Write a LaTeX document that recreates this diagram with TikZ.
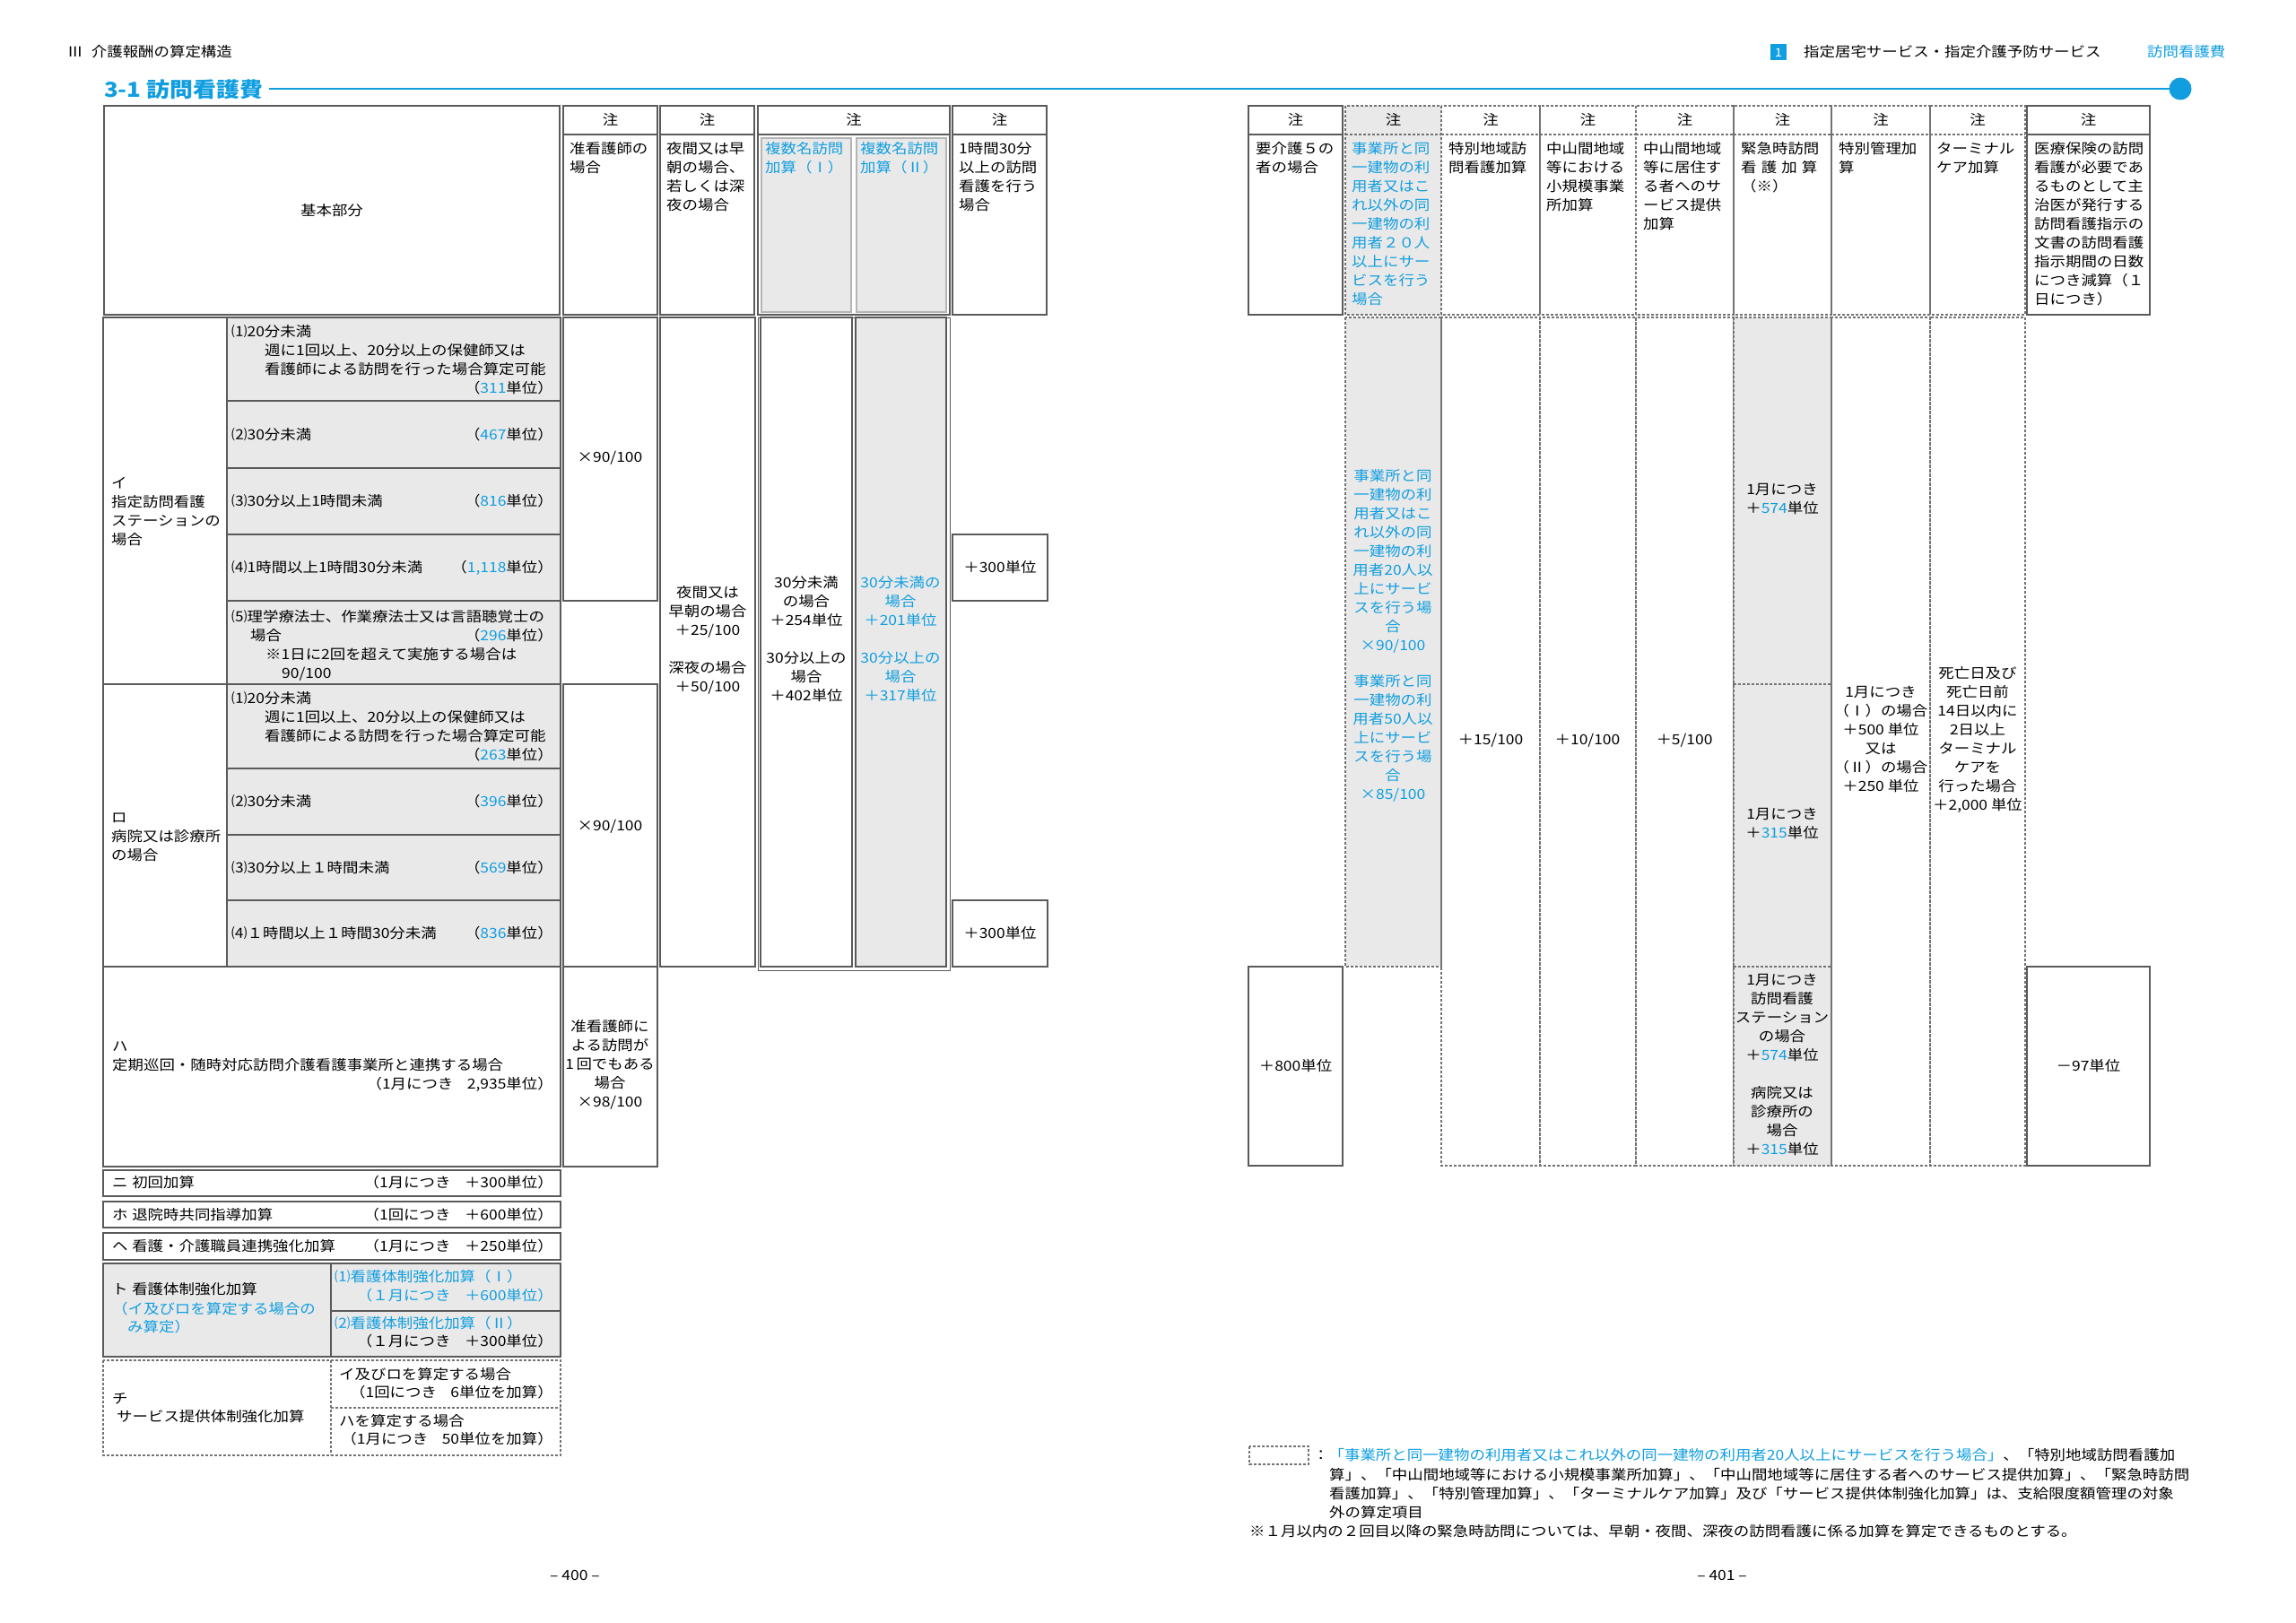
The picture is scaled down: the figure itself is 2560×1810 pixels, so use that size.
\documentclass[tikz,border=0pt]{standalone}
\usepackage{fontspec}
\setmainfont{Noto Sans CJK JP}[FakeStretch=1.125]
\definecolor{jb}{RGB}{16,158,224}
\definecolor{jg}{RGB}{233,233,233}
\definecolor{jl}{RGB}{90,90,90}
\newcommand\fs{\fontsize{15.5}{21}\selectfont}
\newcommand\jst{\rule{0pt}{13.6pt}}
\newcommand\bl[1]{\textcolor{jb}{#1}}
\tikzset{
  box/.style={draw=jl, line width=1.6pt},
  gbox/.style={box, fill=jg},
  dbox/.style={draw=jl!85, line width=1.1pt, dash pattern=on 3pt off 2pt},
  t/.style={font=\fs, inner sep=0pt, anchor=west, text height=13.6pt, text depth=1.9pt},
  tr/.style={t, anchor=east},
  tc/.style={t, anchor=center},
  m/.style={font=\fs, inner sep=0pt, align=left, anchor=north west},
  mc/.style={font=\fs, inner sep=0pt, align=center, anchor=north}
}
\begin{document}
\begin{tikzpicture}[x=1pt,y=-1pt]
\fill[white] (0,0) rectangle (2560,1810);
\useasboundingbox (0,0) rectangle (2560,1810);

% ---------- page headers ----------
\node[t] (hdl) at (75,58) {Ⅲ\hspace{0.6em}介護報酬の算定構造};
\fill[jb] (1974,49) rectangle (1992,67);
\node[tc, text=white, font=\fontsize{13}{13}\selectfont] (hdn) at (1983,58) {1};
\node[t] (hdr) at (2011,58) {指定居宅サービス・指定介護予防サービス};
\node[t, text=jb] (hdr2) at (2394,58) {訪問看護費};
\node[inner sep=0pt, anchor=west, text=jb, font=\fontsize{23}{23}\selectfont\bfseries] (title) at (116,100) {3-1 訪問看護費};
\coordinate (ls) at (300,99);
\coordinate (le) at (2431,99);
\draw[jb, line width=2.6pt] (ls) -- (le);
\fill[jb] (le) circle (12.5);

% ---------- left table header ----------
\draw[box] (116,118) rectangle (624,351);
\node[tc] (kihon) at (370,235) {基本部分};
\foreach \a/\b in {628/733, 736/841, 845/1059, 1062/1167}{
  \draw[box] (\a,118) rectangle (\b,351);
  \draw[box] (\a,150) -- (\b,150);
  \node[tc] (chu\a) at ({(\a+\b)/2},134) {注};
}
\draw[draw=jl!45, line width=1.2pt, fill=jg] (849,154) rectangle (949,348);
\draw[draw=jl!45, line width=1.2pt, fill=jg] (955,154) rectangle (1055,348);
\node[m] (h1) at (635,158) {\jst 准看護師の\\場合};
\node[m] (h2) at (743,158) {\jst 夜間又は早\\朝の場合、\\若しくは深\\夜の場合};
\node[m, text=jb] (h3) at (853,158) {\jst 複数名訪問\\加算（Ⅰ）};
\node[m, text=jb] (h4) at (959,158) {\jst 複数名訪問\\加算（Ⅱ）};
\node[m] (h5) at (1069,158) {\jst 1時間30分\\以上の訪問\\看護を行う\\場合};

% ---------- right table header ----------
\draw[box] (1392,118) rectangle (1497,351);
\draw[box] (1392,150) -- (1497,150);
\node[tc] (rchu1) at (1444.5,134) {注};
\draw[box] (2260,118) rectangle (2397,351);
\draw[box] (2260,150) -- (2397,150);
\node[tc] (rchu9) at (2328.5,134) {注};
\draw[dbox, fill=jg] (1500,118) rectangle (1607,351);
\foreach \a/\b in {1500/1607, 1607/1717, 1717/1824, 1824/1933, 1933/2042, 2042/2152, 2152/2258}{
  \draw[dbox] (\a,118) rectangle (\b,351);
  \draw[dbox] (\a,150) -- (\b,150);
  \node[tc] (rchu\a) at ({(\a+\b)/2},134) {注};
}
\node[m] (r1) at (1400,158) {\jst 要介護５の\\者の場合};
\node[m, text=jb] (r2) at (1507,158) {\jst 事業所と同\\一建物の利\\用者又はこ\\れ以外の同\\一建物の利\\用者２０人\\以上にサー\\ビスを行う\\場合};
\node[m] (r3) at (1615,158) {\jst 特別地域訪\\問看護加算};
\node[m] (r4) at (1724,158) {\jst 中山間地域\\等における\\小規模事業\\所加算};
\node[m] (r5) at (1832,158) {\jst 中山間地域\\等に居住す\\る者へのサ\\ービス提供\\加算};
\node[m] (r6) at (1941,158) {\jst 緊急時訪問\\看\hspace{0.33em}護\hspace{0.33em}加\hspace{0.33em}算\\（※）};
\node[m] (r7) at (2050,158) {\jst 特別管理加\\算};
\node[m] (r8) at (2159,158) {\jst ターミナル\\ケア加算};
\node[m] (r9) at (2268,158) {\jst 医療保険の訪問\\看護が必要であ\\るものとして主\\治医が発行する\\訪問看護指示の\\文書の訪問看護\\指示期間の日数\\につき減算（１\\日につき）};

% ---------- left body boxes ----------
\draw[box] (115,354) rectangle (253,763);
\foreach \a/\b in {354/447, 447/522, 522/596, 596/670, 670/763}{
  \draw[gbox] (253,\a) rectangle (625,\b);
}
\draw[box] (115,763) rectangle (253,1078);
\foreach \a/\b in {763/857, 857/931, 931/1004, 1004/1078}{
  \draw[gbox] (253,\a) rectangle (625,\b);
}
\draw[box] (115,1078) rectangle (625,1301);
\draw[box] (628,354) rectangle (733,670);
\draw[box] (628,763) rectangle (733,1078);
\draw[box] (628,1078) rectangle (733,1301);
\draw[box] (736,354) rectangle (842,1078);
\draw[draw=jl, line width=0.8pt] (845,354) rectangle (1059,1082);
\draw[box] (848,354) rectangle (950,1078);
\draw[gbox] (954,354) rectangle (1055,1078);
\draw[box] (1062,596) rectangle (1168,670);
\draw[box] (1062,1004) rectangle (1168,1078);
\draw[box] (115,1305) rectangle (625,1334);
\draw[box] (115,1340) rectangle (625,1369);
\draw[box] (115,1375) rectangle (625,1405);
\draw[gbox] (115,1409) rectangle (625,1513);
\draw[box] (369,1409) -- (369,1513);
\draw[box] (369,1462) -- (625,1462);
\draw[dbox] (115,1517) rectangle (625,1623);
\draw[dbox] (369,1517) -- (369,1623);
\draw[dbox] (369,1570) -- (625,1570);

% ---------- left body texts ----------
\node[m] (ilab) at (124,531) {\jst イ\\指定訪問看護\\ステーションの\\場合};
\node[t] (i1a) at (258,370) {⑴20分未満};
\node[t] (i1b) at (295,391) {週に1回以上、20分以上の保健師又は};
\node[t] (i1c) at (295,412) {看護師による訪問を行った場合算定可能};
\node[tr] (i1d) at (617,433) {（\bl{311}単位）};
\node[t] (i2a) at (258,485) {⑵30分未満};
\node[tr] (i2b) at (617,485) {（\bl{467}単位）};
\node[t] (i3a) at (258,559) {⑶30分以上1時間未満};
\node[tr] (i3b) at (617,559) {（\bl{816}単位）};
\node[t] (i4a) at (258,633) {⑷1時間以上1時間30分未満};
\node[tr] (i4b) at (617,633) {（\bl{1,118}単位）};
\node[t] (i5a) at (258,688) {⑸理学療法士、作業療法士又は言語聴覚士の};
\node[t] (i5b) at (279,709) {場合};
\node[tr] (i5c) at (617,709) {（\bl{296}単位）};
\node[t] (i5d) at (296,730) {※1日に2回を超えて実施する場合は};
\node[t] (i5e) at (314,751) {90/100};

\node[m] (rlab) at (124,904) {\jst ロ\\病院又は診療所\\の場合};
\node[t] (o1a) at (258,779) {⑴20分未満};
\node[t] (o1b) at (295,800) {週に1回以上、20分以上の保健師又は};
\node[t] (o1c) at (295,821) {看護師による訪問を行った場合算定可能};
\node[tr] (o1d) at (617,842) {（\bl{263}単位）};
\node[t] (o2a) at (258,894) {⑵30分未満};
\node[tr] (o2b) at (617,894) {（\bl{396}単位）};
\node[t] (o3a) at (258,968) {⑶30分以上１時間未満};
\node[tr] (o3b) at (617,968) {（\bl{569}単位）};
\node[t] (o4a) at (258,1041) {⑷１時間以上１時間30分未満};
\node[tr] (o4b) at (617,1041) {（\bl{836}単位）};

\node[t] (ha1) at (125,1167) {ハ};
\node[t] (ha2) at (125,1188) {定期巡回・随時対応訪問介護看護事業所と連携する場合};
\node[tr] (ha3) at (617,1209) {（1月につき\quad 2,935単位）};

\node[tc] (x1) at (680,510) {×90/100};
\node[tc] (x2) at (680,921) {×90/100};
\node[mc] (x3) at (680,1137) {\jst 准看護師に\\よる訪問が\\1\,回でもある\\場合\\×98/100};

\node[mc] (yk) at (789,653) {\jst 夜間又は\\早朝の場合\\＋25/100\\[21pt]深夜の場合\\＋50/100};
\node[mc] (f1) at (899,642) {\jst 30分未満\\の場合\\＋254単位\\[21pt]30分以上の\\場合\\＋402単位};
\node[mc, text=jb] (f2) at (1004,642) {\jst 30分未満の\\場合\\＋201単位\\[21pt]30分以上の\\場合\\＋317単位};
\node[tc] (p1) at (1115,633) {＋300単位};
\node[tc] (p2) at (1115,1041) {＋300単位};

\node[t] (n1) at (125,1319) {ニ\hspace{0.3em}初回加算};
\node[tr] (n2) at (617,1319) {（1月につき\quad＋300単位）};
\node[t] (ho1) at (125,1355) {ホ\hspace{0.3em}退院時共同指導加算};
\node[tr] (ho2) at (617,1355) {（1回につき\quad＋600単位）};
\node[t] (he1) at (125,1390) {ヘ\hspace{0.3em}看護・介護職員連携強化加算};
\node[tr] (he2) at (617,1390) {（1月につき\quad＋250単位）};
\node[t] (to1) at (125,1438) {ト\hspace{0.3em}看護体制強化加算};
\node[t, text=jb] (to2) at (125,1460) {（イ及びロを算定する場合の};
\node[t, text=jb] (to3) at (142,1480) {み算定）};
\node[t, text=jb] (to4) at (373,1424) {⑴看護体制強化加算（Ⅰ）};
\node[tr, text=jb] (to5) at (617,1445) {（１月につき\quad＋600単位）};
\node[t, text=jb] (to6) at (373,1476) {⑵看護体制強化加算（Ⅱ）};
\node[tr] (to7) at (617,1496) {（１月につき\quad＋300単位）};
\node[t] (ch1) at (125,1560) {チ};
\node[t] (ch2) at (130,1580) {サービス提供体制強化加算};
\node[t] (ch3) at (378,1533) {イ及びロを算定する場合};
\node[tr] (ch4) at (617,1553) {（1回につき\quad 6単位を加算）};
\node[t] (ch5) at (378,1585) {ハを算定する場合};
\node[tr] (ch6) at (617,1605) {（1月につき\quad 50単位を加算）};

% ---------- right body ----------
\draw[dbox, fill=jg] (1500,354) rectangle (1607,1078);
\draw[dbox] (1607,354) rectangle (1717,1300);
\draw[dbox] (1717,354) rectangle (1824,1300);
\draw[dbox] (1824,354) rectangle (1933,1300);
\draw[dbox, fill=jg] (1933,354) rectangle (2042,1300);
\draw[dbox] (1933,763) -- (2042,763);
\draw[dbox] (1933,1078) -- (2042,1078);
\draw[dbox] (2042,354) rectangle (2152,1300);
\draw[dbox] (2152,354) rectangle (2258,1300);
\draw[box] (1392,1078) rectangle (1497,1300);
\draw[box] (2260,1078) rectangle (2397,1300);

\node[mc, text=jb] (c2t) at (1553,523) {\jst 事業所と同\\一建物の利\\用者又はこ\\れ以外の同\\一建物の利\\用者20人以\\上にサービ\\スを行う場\\合\\×90/100\\[19pt]事業所と同\\一建物の利\\用者50人以\\上にサービ\\スを行う場\\合\\×85/100};
\node[tc] (c3t) at (1662,825) {＋15/100};
\node[tc] (c4t) at (1770,825) {＋10/100};
\node[tc] (c5t) at (1878,825) {＋5/100};
\node[mc] (c6a) at (1987,538) {\jst 1月につき\\＋\bl{574}単位};
\node[mc] (c6b) at (1987,900) {\jst 1月につき\\＋\bl{315}単位};
\node[mc] (c6c) at (1987,1085) {\jst 1月につき\\訪問看護\\ステーション\\の場合\\＋\bl{574}単位\\[21pt]病院又は\\診療所の\\場合\\＋\bl{315}単位};
\node[mc] (c7t) at (2097,764) {\jst 1月につき\\（Ⅰ）の場合\\＋500 単位\\又は\\（Ⅱ）の場合\\＋250 単位};
\node[mc] (c8t) at (2205,743) {\jst 死亡日及び\\死亡日前\\14日以内に\\2日以上\\ターミナル\\ケアを\\行った場合\\＋2,000 単位};
\node[tc] (e1) at (1444.5,1189) {＋800単位};
\node[tc] (e2) at (2328.5,1189) {－97単位};

% ---------- footnote ----------
\draw[dbox] (1393,1613) rectangle (1459,1633);
\node[t] (fn1) at (1464,1623) {：\bl{「事業所と同一建物の利用者又はこれ以外の同一建物の利用者20人以上にサービスを行う場合」}、「特別地域訪問看護加};
\node[t] (fn2) at (1482,1645) {算」、「中山間地域等における小規模事業所加算」、「中山間地域等に居住する者へのサービス提供加算」、「緊急時訪問};
\node[t] (fn3) at (1482,1666) {看護加算」、「特別管理加算」、「ターミナルケア加算」及び「サービス提供体制強化加算」は、支給限度額管理の対象};
\node[t] (fn4) at (1482,1687) {外の算定項目};
\node[t] (fn5) at (1393,1708) {※１月以内の２回目以降の緊急時訪問については、早朝・夜間、深夜の訪問看護に係る加算を算定できるものとする。};

\node[tc] (pg1) at (641,1757) {– 400 –};
\node[tc] (pg2) at (1920,1757) {– 401 –};
\end{tikzpicture}
\end{document}
